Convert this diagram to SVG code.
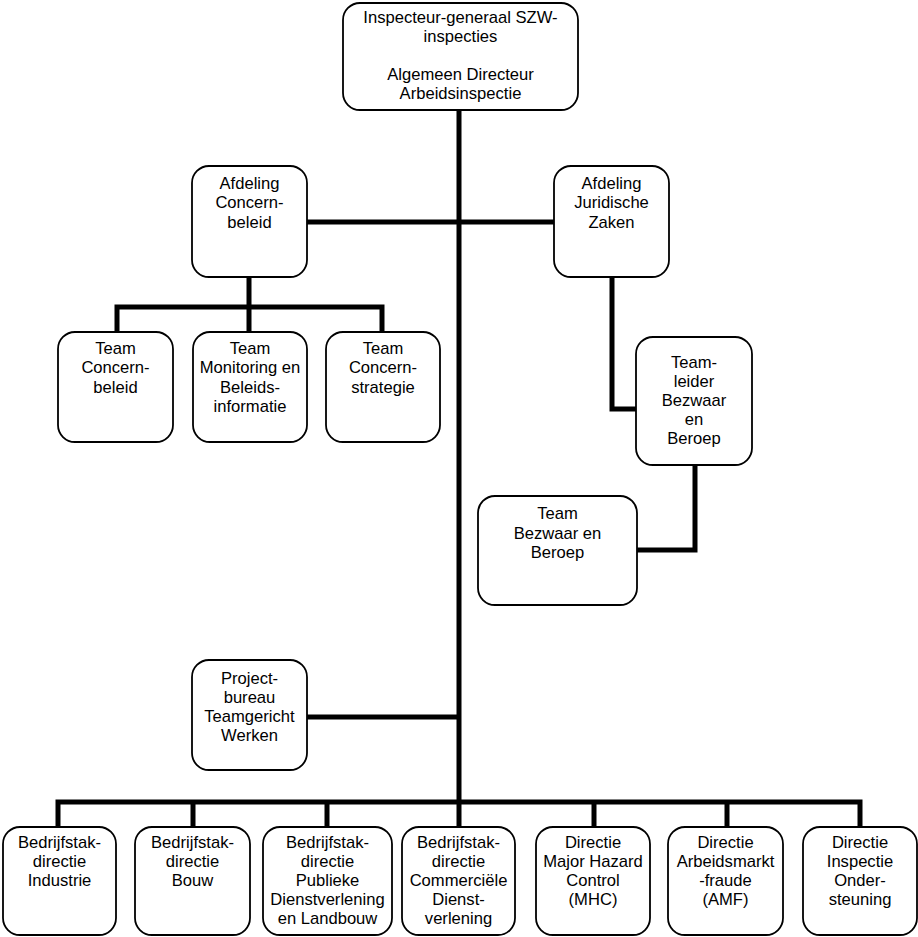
<svg xmlns="http://www.w3.org/2000/svg" width="918" height="937" viewBox="0 0 918 937">
<style>
.box{fill:#fff;stroke:#000;stroke-width:1.8}
.t{font-family:"Liberation Sans",Arial,sans-serif;font-size:16.6px;text-anchor:middle;fill:#000}
.c{fill:none;stroke:#000;stroke-width:5;stroke-linejoin:miter;stroke-linecap:butt}
</style>
<rect width="918" height="937" fill="#fff"/>
<g id="connectors">
<path class="c" d="M459,110 V802"/>
<path class="c" d="M307,222 H554"/>
<path class="c" d="M249,277 V307 M117,332 V307 H382 V332 M249,307 V332"/>
<path class="c" d="M612,277 V409 H636"/>
<path class="c" d="M695,465 V550 H637"/>
<path class="c" d="M307,717 H459"/>
<path class="c" d="M58,827 V802 H860 V827 M193,802 V827 M327,802 V827 M459,802 V827 M594,802 V827 M727,802 V827"/>
</g>
<g id="n-top">
<rect class="box" x="343" y="3" width="235" height="107" rx="17"/>
<text class="t" x="460.5" y="23">Inspecteur-generaal SZW-</text>
<text class="t" x="460.5" y="42">inspecties</text>
<text class="t" x="460.5" y="80">Algemeen Directeur</text>
<text class="t" x="460.5" y="99">Arbeidsinspectie</text>
</g>
<g id="n-afd-concern">
<rect class="box" x="192" y="166" width="115" height="111" rx="17"/>
<text class="t" x="249.5" y="189">Afdeling</text>
<text class="t" x="249.5" y="208">Concern-</text>
<text class="t" x="249.5" y="228">beleid</text>
</g>
<g id="n-afd-jur">
<rect class="box" x="554" y="166" width="115" height="111" rx="17"/>
<text class="t" x="611.5" y="189">Afdeling</text>
<text class="t" x="611.5" y="208">Juridische</text>
<text class="t" x="611.5" y="228">Zaken</text>
</g>
<g id="n-team-concern">
<rect class="box" x="58" y="332" width="115" height="110" rx="17"/>
<text class="t" x="115.5" y="354">Team</text>
<text class="t" x="115.5" y="373">Concern-</text>
<text class="t" x="115.5" y="393">beleid</text>
</g>
<g id="n-team-monitoring">
<rect class="box" x="193" y="332" width="114" height="110" rx="17"/>
<text class="t" x="250" y="354">Team</text>
<text class="t" x="250" y="373">Monitoring en</text>
<text class="t" x="250" y="393">Beleids-</text>
<text class="t" x="250" y="412">informatie</text>
</g>
<g id="n-team-strategie">
<rect class="box" x="326" y="332" width="114" height="110" rx="17"/>
<text class="t" x="383" y="354">Team</text>
<text class="t" x="383" y="373">Concern-</text>
<text class="t" x="383" y="393">strategie</text>
</g>
<g id="n-teamleider">
<rect class="box" x="636" y="337" width="116" height="128" rx="17"/>
<text class="t" x="694" y="368">Team-</text>
<text class="t" x="694" y="387">leider</text>
<text class="t" x="694" y="406">Bezwaar</text>
<text class="t" x="694" y="425">en</text>
<text class="t" x="694" y="444">Beroep</text>
</g>
<g id="n-team-bezwaar">
<rect class="box" x="478" y="496" width="159" height="109" rx="17"/>
<text class="t" x="557.5" y="519">Team</text>
<text class="t" x="557.5" y="539">Bezwaar en</text>
<text class="t" x="557.5" y="558">Beroep</text>
</g>
<g id="n-projectbureau">
<rect class="box" x="192" y="660" width="115" height="110" rx="17"/>
<text class="t" x="249.5" y="684">Project-</text>
<text class="t" x="249.5" y="703">bureau</text>
<text class="t" x="249.5" y="722">Teamgericht</text>
<text class="t" x="249.5" y="741">Werken</text>
</g>
<g id="n-industrie">
<rect class="box" x="3" y="827" width="113" height="108" rx="17"/>
<text class="t" x="59.5" y="848">Bedrijfstak-</text>
<text class="t" x="59.5" y="867">directie</text>
<text class="t" x="59.5" y="886">Industrie</text>
</g>
<g id="n-bouw">
<rect class="box" x="135" y="827" width="115" height="108" rx="17"/>
<text class="t" x="192.5" y="848">Bedrijfstak-</text>
<text class="t" x="192.5" y="867">directie</text>
<text class="t" x="192.5" y="886">Bouw</text>
</g>
<g id="n-publieke">
<rect class="box" x="263" y="827" width="129" height="108" rx="17"/>
<text class="t" x="327.5" y="848">Bedrijfstak-</text>
<text class="t" x="327.5" y="867">directie</text>
<text class="t" x="327.5" y="886">Publieke</text>
<text class="t" x="327.5" y="905">Dienstverlening</text>
<text class="t" x="327.5" y="924">en Landbouw</text>
</g>
<g id="n-commerciele">
<rect class="box" x="402" y="827" width="113" height="108" rx="17"/>
<text class="t" x="458.5" y="848">Bedrijfstak-</text>
<text class="t" x="458.5" y="867">directie</text>
<text class="t" x="458.5" y="886">Commerciële</text>
<text class="t" x="458.5" y="905">Dienst-</text>
<text class="t" x="458.5" y="924">verlening</text>
</g>
<g id="n-mhc">
<rect class="box" x="536" y="827" width="114" height="108" rx="17"/>
<text class="t" x="593" y="848">Directie</text>
<text class="t" x="593" y="867">Major Hazard</text>
<text class="t" x="593" y="886">Control</text>
<text class="t" x="593" y="905">(MHC)</text>
</g>
<g id="n-amf">
<rect class="box" x="668" y="827" width="115" height="108" rx="17"/>
<text class="t" x="725.5" y="848">Directie</text>
<text class="t" x="725.5" y="867">Arbeidsmarkt</text>
<text class="t" x="725.5" y="886">-fraude</text>
<text class="t" x="725.5" y="905">(AMF)</text>
</g>
<g id="n-ondersteuning">
<rect class="box" x="803" y="827" width="114" height="108" rx="17"/>
<text class="t" x="860" y="848">Directie</text>
<text class="t" x="860" y="867">Inspectie</text>
<text class="t" x="860" y="886">Onder-</text>
<text class="t" x="860" y="905">steuning</text>
</g>
</svg>
